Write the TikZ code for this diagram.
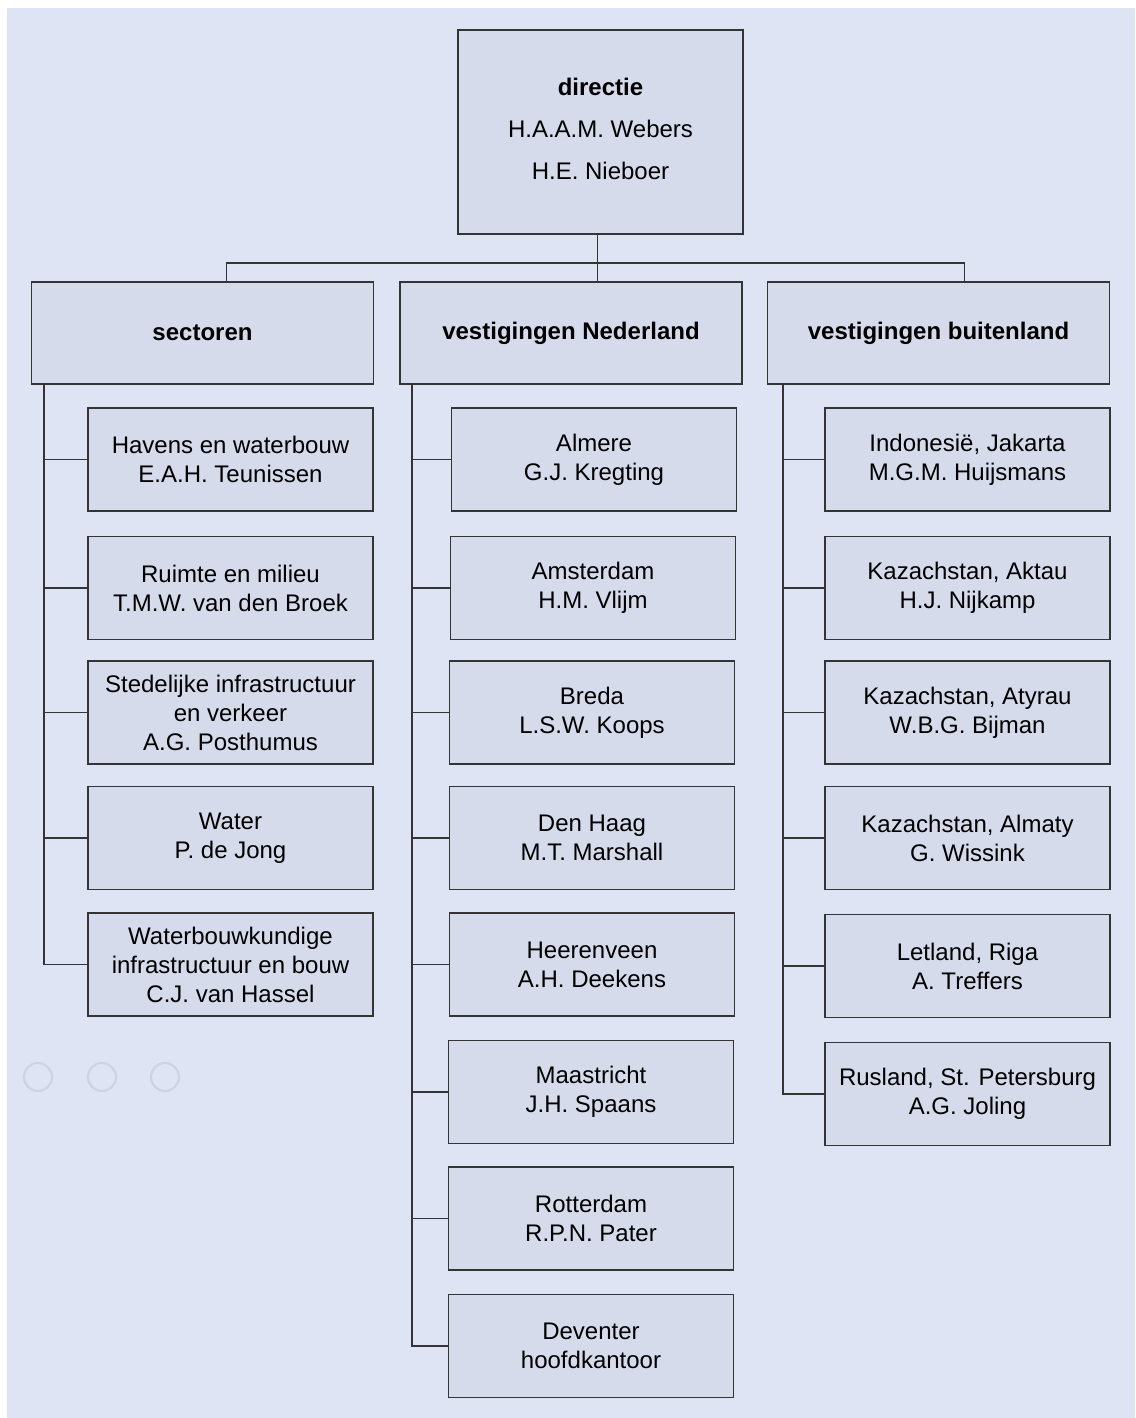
\documentclass[tikz,border=0pt]{standalone}
\usepackage{fontspec}
\setmainfont{Liberation Sans}
\usepackage{xcolor}
\usetikzlibrary{positioning}
\definecolor{orgline}{RGB}{52, 52, 52}
\definecolor{orgfill}{RGB}{214, 219, 236}
\definecolor{orgback}{RGB}{223, 228, 245}
\definecolor{orgring}{RGB}{206, 211, 228}

\begin{document}
\begin{tikzpicture}[
  x=1pt, y=-1pt,
  every node/.style={font=\fontsize{24}{29}\selectfont},
  unit/.style={
    draw=orgline, line width=1.8pt, fill=orgfill,
    align=center, minimum width=285pt, minimum height=103pt,
    inner sep=2pt
  },
  head/.style={
    unit, minimum width=342pt, minimum height=102pt,
    font=\fontsize{24}{29}\selectfont\bfseries
  },
  link/.style={draw=orgline, line width=1.8pt},
  ring/.style={draw=orgring, line width=2.2pt}
]

  % achtergrond
  \fill[white] (0,0) rectangle (1135,1418);
  \fill[orgback] (7,8) rectangle (1135,1418);
  \draw[ring] (38,1077) circle (14);
  \draw[ring] (102,1077) circle (14);
  \draw[ring] (165,1077) circle (14);

  % directie
  \node[unit, minimum height=204pt] (dir) at (600.5,132) {\textbf{directie}\\[13pt] H.A.A.M. Webers\\[13pt] H.E. Nieboer\\[-22pt]};

  % kolomkoppen
  \node[head] (sec) at (202.5,333) {sectoren};
  \node[head] (ned) at (571,333) {vestigingen Nederland};
  \node[head] (bui) at (938.5,333) {vestigingen buitenland};

  % sectoren
  \node[unit] (havens) at (230.5,459.5) {Havens en waterbouw\\E.A.H. Teunissen};
  \node[unit] (ruimte) at (230.5,588) {Ruimte en milieu\\T.M.W. van den Broek};
  \node[unit] (stedelijk) at (230.5,712.5) {Stedelijke infrastructuur\\en verkeer\\A.G. Posthumus};
  \node[unit] (water) at (230.5,838) {Water\\P. de Jong};
  \node[unit] (wbk) at (230.5,964.5) {Waterbouwkundige\\infrastructuur en bouw\\C.J. van Hassel};

  % vestigingen Nederland
  \node[unit] (almere) at (594,459.5) {Almere\\G.J. Kregting};
  \node[unit] (amsterdam) at (593,588) {Amsterdam\\H.M. Vlijm};
  \node[unit] (breda) at (592,712.5) {Breda\\L.S.W. Koops};
  \node[unit] (denhaag) at (592,838) {Den Haag\\M.T. Marshall};
  \node[unit] (heerenveen) at (592,964.5) {Heerenveen\\A.H. Deekens};
  \node[unit] (maastricht) at (591,1092) {Maastricht\\J.H. Spaans};
  \node[unit] (rotterdam) at (591,1218.5) {Rotterdam\\R.P.N. Pater};
  \node[unit] (deventer) at (591,1346) {Deventer\\hoofdkantoor};

  % vestigingen buitenland
  \node[unit] (jakarta) at (967.5,459.5) {Indonesië, Jakarta\\M.G.M. Huijsmans};
  \node[unit] (aktau) at (967.5,588) {Kazachstan, Aktau\\H.J. Nijkamp};
  \node[unit] (atyrau) at (967.5,712.5) {Kazachstan, Atyrau\\W.B.G. Bijman};
  \node[unit] (almaty) at (967.5,838) {Kazachstan, Almaty\\G. Wissink};
  \node[unit] (riga) at (967.5,966) {Letland, Riga\\A. Treffers};
  \node[unit] (petersburg) at (967.5,1094) {Rusland, St. Petersburg\\A.G. Joling};

  % directie naar kolommen
  \draw[link] ([xshift=-3pt]dir.south) -- ++(0,28) coordinate (bus);
  \draw[link] (bus) -| ([xshift=24pt]sec.north);
  \draw[link] (bus) -- (bus |- ned.north);
  \draw[link] (bus) -| ([xshift=26pt]bui.north);

  % sectoren
  \draw[link] ([xshift=13pt]sec.south west) |- (havens.west);
  \draw[link] ([xshift=13pt]sec.south west) |- (ruimte.west);
  \draw[link] ([xshift=13pt]sec.south west) |- (stedelijk.west);
  \draw[link] ([xshift=13pt]sec.south west) |- (water.west);
  \draw[link] ([xshift=13pt]sec.south west) |- (wbk.west);

  % vestigingen Nederland
  \draw[link] ([xshift=13pt]ned.south west) |- (almere.west);
  \draw[link] ([xshift=13pt]ned.south west) |- (amsterdam.west);
  \draw[link] ([xshift=13pt]ned.south west) |- (breda.west);
  \draw[link] ([xshift=13pt]ned.south west) |- (denhaag.west);
  \draw[link] ([xshift=13pt]ned.south west) |- (heerenveen.west);
  \draw[link] ([xshift=13pt]ned.south west) |- (maastricht.west);
  \draw[link] ([xshift=13pt]ned.south west) |- (rotterdam.west);
  \draw[link] ([xshift=13pt]ned.south west) |- (deventer.west);

  % vestigingen buitenland
  \draw[link] ([xshift=16pt]bui.south west) |- (jakarta.west);
  \draw[link] ([xshift=16pt]bui.south west) |- (aktau.west);
  \draw[link] ([xshift=16pt]bui.south west) |- (atyrau.west);
  \draw[link] ([xshift=16pt]bui.south west) |- (almaty.west);
  \draw[link] ([xshift=16pt]bui.south west) |- (riga.west);
  \draw[link] ([xshift=16pt]bui.south west) |- (petersburg.west);

\end{tikzpicture}
\end{document}
